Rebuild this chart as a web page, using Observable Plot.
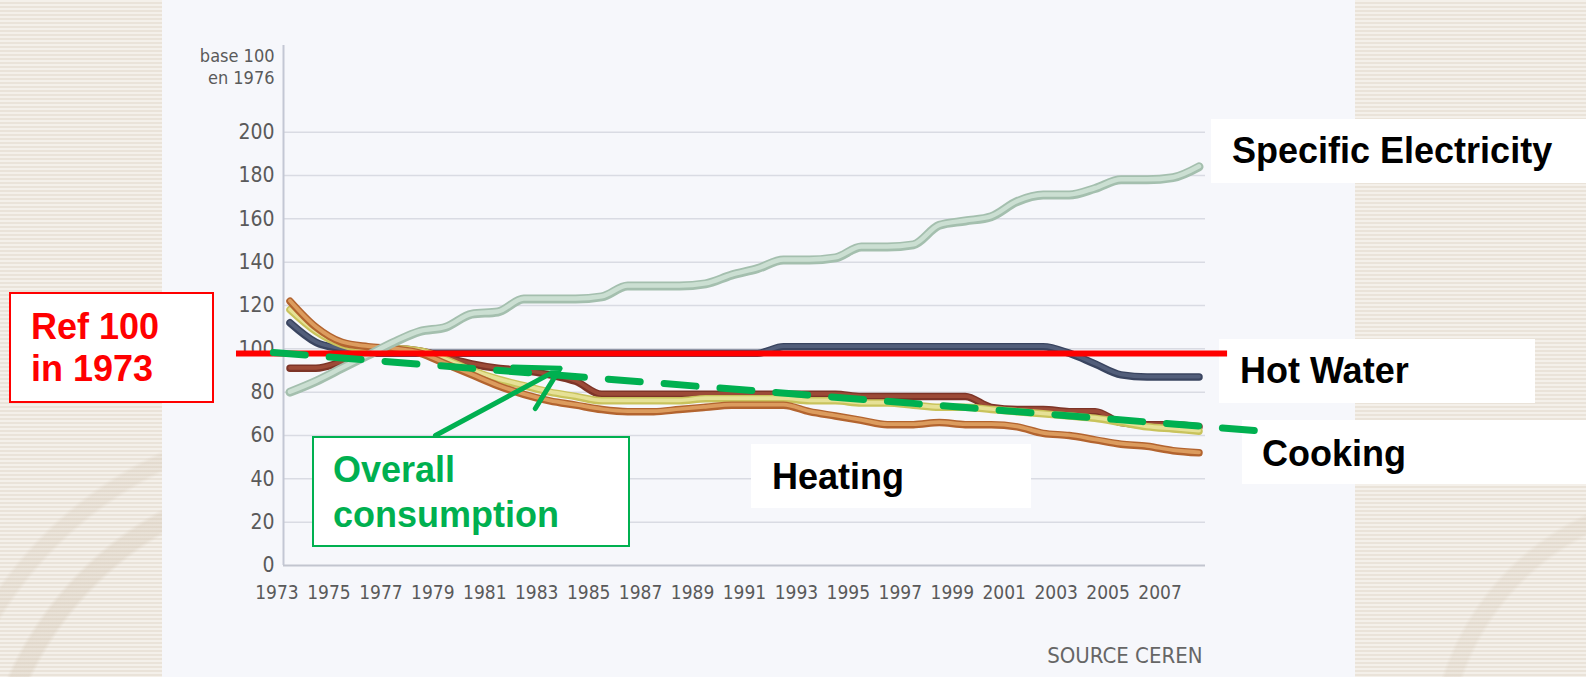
<!DOCTYPE html>
<html><head><meta charset="utf-8">
<script src="https://cdn.jsdelivr.net/npm/d3@7"></script>
<script src="https://cdn.jsdelivr.net/npm/@observablehq/plot@0.6"></script>
<style>
html,body{margin:0;padding:0;background:#efe9e0;}
#stage{position:relative;width:1586px;height:677px;overflow:hidden;
 background:repeating-linear-gradient(180deg,#f4f0ea 0px,#f4f0ea 2px,#eae3d9 2px,#eae3d9 4px);}
#arcs{position:absolute;left:0;top:0;width:1586px;height:677px;background:
 radial-gradient(circle at 330px 820px, transparent 330px, rgba(200,184,162,.25) 334px, rgba(200,184,162,.25) 350px, transparent 354px, transparent 385px, rgba(200,184,162,.2) 389px, rgba(200,184,162,.2) 402px, transparent 406px),
 radial-gradient(circle at 1700px 760px, transparent 250px, rgba(200,184,162,.18) 254px, rgba(200,184,162,.18) 268px, transparent 272px);}
#panel{position:absolute;left:162px;top:0;width:1193px;height:677px;background:#f6f7fb;}
.layer{position:absolute;left:0;top:0;}
.box{position:absolute;box-sizing:border-box;background:#fff;font-family:"Liberation Sans",Arial,Helvetica,sans-serif;font-weight:bold;font-size:36px;white-space:nowrap;}
</style></head><body>
<div id="stage"><div id="arcs"></div><div id="panel"></div></div>
<script>
// ---- data ----
const years = [1973,1974,1975,1976,1977,1978,1979,1980,1981,1982,1983,1984,1985,1986,1987,1988,1989,1990,1991,1992,1993,1994,1995,1996,1997,1998,1999,2000,2001,2002,2003,2004,2005,2006,2007,2008];
const specificElectricity = [80,85,91,97,103,108,110,116,117,123,123,123,124,129,129,129,130,134,137,141,141,142,147,147,148,157,159,161,168,171,171,174,178,178,179,184];
const hotWater = [112,103,100,98,98,98,98,98,98,98,98,98,98,98,98,98,98,98,98,101,101,101,101,101,101,101,101,101,101,101,98,93,88,87,87,87];
const cooking = [91,91,94,98,100,99,96,93,91,90,88,85,79,79,79,79,79,79,79,79,79,79,78,78,78,78,78,73,72,72,71,71,66,65,65,64];
const heating = [122,110,103,101,100,98,93,88,83,79,76,74,72,71,71,72,73,74,74,74,71,69,67,65,65,66,65,65,64,61,60,58,56,55,53,52];
const total = [118,108,102,100,100,99,95,90,86,83,80,78,76,76,76,76,77,77,77,77,76,76,75,75,74,73,73,72,71,70,69,68,66,64,63,62];
const seriesNames = ["Hot Water","Cooking","Total","Heating","Specific Electricity"];
const seriesValues = [hotWater, cooking, total, heating, specificElectricity];
const yTicks = [0,20,40,60,80,100,120,140,160,180,200];
const xTicks = [1973,1975,1977,1979,1981,1983,1985,1987,1989,1991,1993,1995,1997,1999,2001,2003,2005,2007];
const axisNote = "base 100\nen 1976";
const sourceNote = "SOURCE CEREN";
// annotations (data space)
const refLevel = 97.8, refFrom = 1970.94, refTo = 2009.1;
const overallYears = [1972.36, 2010.14];
const overallValues = [98.3, 62.3];
const arrowFrom = [1978.6, 60];
const arrowTo = [1983.4, 91];
const boxLabels = ["Ref 100\nin 1973","Overall\nconsumption","Heating","Hot Water","Cooking","Specific Electricity"];

// ---- styles ----
const lineStyle = {
  "Hot Water": {outer:"#3a4560", inner:"#525e7a", w:7.5},
  "Cooking": {outer:"#7d3427", inner:"#9c4a37", w:7.5},
  "Total": {outer:"#c9c35c", inner:"#e6e196", w:7.5},
  "Heating": {outer:"#b3642f", inner:"#dc9c5e", w:7.5},
  "Specific Electricity": {outer:"#a4bfae", inner:"#cbdfd2", w:9}
};
const table = [];
seriesNames.forEach((name, k) => years.forEach((year, i) => table.push({name, year, value: seriesValues[k][i]})));

const W = 1586, H = 677;
const base = {
  width: W, height: H, marginLeft: 283, marginRight: 381, marginTop: 45, marginBottom: 112,
  style: {background: "transparent", overflow: "visible", color: "#5a5a5a",
          fontFamily: "'Liberation Sans Narrow','Arial Narrow','DejaVu Sans Condensed',sans-serif", fontSize: "20px"}
};
const xDomain = [1972.75, 2008.25], yDomain = [0, 240];

const lineMarks = [];
for (const name of seriesNames) {
  const s = lineStyle[name];
  const data = table.filter(d => d.name === name);
  lineMarks.push(Plot.line(data, {x: "year", y: "value", stroke: s.outer, strokeWidth: s.w, curve: "monotone-x", strokeLinecap: "round", strokeLinejoin: "round"}));
  lineMarks.push(Plot.line(data, {x: "year", y: "value", stroke: s.inner, strokeWidth: s.w * 0.5, dy: -0.5, curve: "monotone-x", strokeLinecap: "round", strokeLinejoin: "round"}));
}

const chart = Plot.plot({
  ...base,
  x: {domain: xDomain},
  y: {domain: yDomain},
  marks: [
    Plot.ruleY(yTicks.filter(d => d > 0), {stroke: "#d9dbe3", strokeWidth: 1.5}),
    Plot.ruleY([0], {stroke: "#c2c5cf", strokeWidth: 2}),
    Plot.ruleX([xDomain[0]], {stroke: "#c3c7d4", strokeWidth: 2}),
    Plot.axisY({ticks: yTicks, tickSize: 0, tickPadding: 9, label: null, fontSize: 21}),
    Plot.axisX({ticks: xTicks, tickSize: 0, tickPadding: 20, dx: -13, label: null, tickFormat: d => String(d), fontSize: 19}),
    Plot.text([axisNote], {frameAnchor: "top-left", textAnchor: "end", lineAnchor: "top", dx: -9, dy: 1, fontSize: 18, lineHeight: 1.22, fill: "#5a5a5a"}),
    Plot.text([sourceNote], {frameAnchor: "bottom-right", textAnchor: "end", lineAnchor: "middle", dx: -3, dy: 90, fontSize: 22, fill: "#666"}),
    ...lineMarks
  ]
});
chart.classList.add("layer");
chart.style.position = "absolute"; chart.style.left = "0px"; chart.style.top = "0px";
const stage = document.getElementById("stage");
stage.appendChild(chart);

// ---- annotation boxes (layout) ----
const boxLayout = [
  {left: 9, top: 292, w: 205, h: 111, border: "2px solid #ff0000", color: "#ff0000", pl: 20, pt: 12, lh: 42},
  {left: 312, top: 436, w: 318, h: 111, border: "2px solid #00b050", color: "#00b050", pl: 19, pt: 9, lh: 45},
  {left: 751, top: 444, w: 280, h: 64, border: "none", color: "#000", pl: 21, pt: 12, lh: 42},
  {left: 1219, top: 339, w: 316, h: 64, border: "none", color: "#000", pl: 21, pt: 11, lh: 42},
  {left: 1242, top: 420, w: 344, h: 64, border: "none", color: "#000", pl: 20, pt: 13, lh: 42},
  {left: 1211, top: 119, w: 375, h: 64, border: "none", color: "#000", pl: 21, pt: 11, lh: 42}
];
boxLabels.forEach((label, i) => {
  const b = boxLayout[i];
  const div = document.createElement("div");
  div.className = "box";
  Object.assign(div.style, {left: b.left + "px", top: b.top + "px", width: b.w + "px", height: b.h + "px",
    border: b.border, color: b.color, paddingLeft: b.pl + "px", paddingTop: b.pt + "px", lineHeight: b.lh + "px"});
  label.split("\n").forEach((line, j) => {
    if (j) div.appendChild(document.createElement("br"));
    div.appendChild(document.createTextNode(line));
  });
  stage.appendChild(div);
});

// ---- annotation lines (same scales) ----
const annot = Plot.plot({
  ...base,
  x: {domain: xDomain, axis: null},
  y: {domain: yDomain, axis: null},
  marks: [
    Plot.ruleY([{y: refLevel, x1: refFrom, x2: refTo}], {y: "y", x1: "x1", x2: "x2", stroke: "#ff0000", strokeWidth: 6}),
    Plot.line(overallYears.map((x, i) => ({x, y: overallValues[i]})), {x: "x", y: "y", stroke: "#00b050", strokeWidth: 7, strokeDasharray: "32,24"}),
    Plot.arrow([{x1: arrowFrom[0], y1: arrowFrom[1], x2: arrowTo[0], y2: arrowTo[1]}], {x1: "x1", y1: "y1", x2: "x2", y2: "y2", stroke: "#00b050", strokeWidth: 5, headLength: 24})
  ]
});
annot.classList.add("layer");
annot.style.position = "absolute"; annot.style.left = "0px"; annot.style.top = "0px";
stage.appendChild(annot);
</script></body></html>
